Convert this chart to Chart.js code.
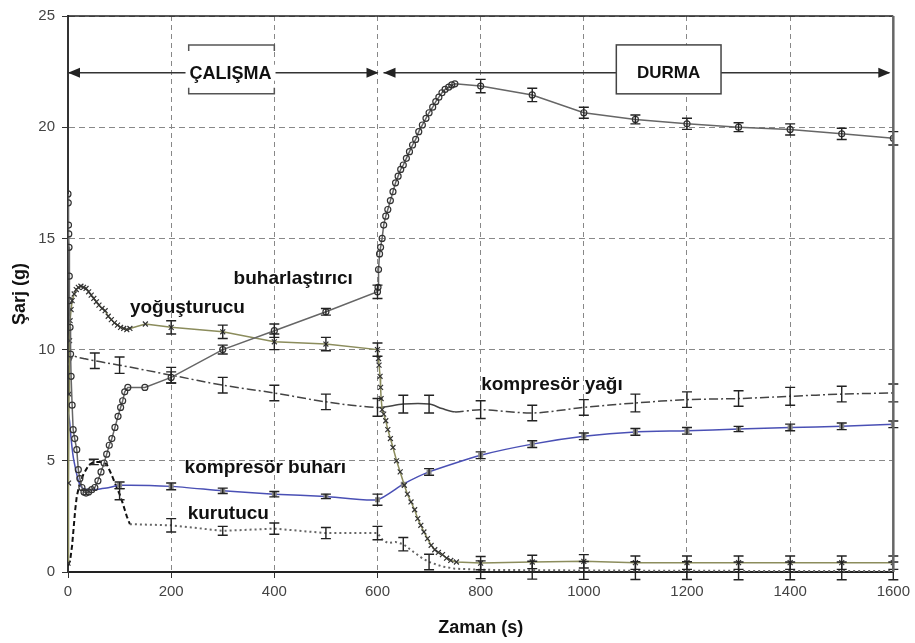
<!DOCTYPE html>
<html>
<head>
<meta charset="utf-8">
<script src="https://cdn.jsdelivr.net/npm/chart.js@4.4.1/dist/chart.umd.min.js"></script>
<style>
  body { margin: 0; background: #fff; }
  #chargeChart { display: block; }
</style>
</head>
<body>
<canvas id="chargeChart" width="915" height="643"></canvas>
<script>
// refrigerant charge (g) per component over time (s)
const evapTime = [0, 0.5, 1, 1.5, 2, 2.5, 3, 4, 5, 6,
  8, 10, 13, 17, 20, 23, 27, 31, 35, 40,
  46, 52, 58, 64, 70, 75, 80, 85, 91, 97,
  102, 106, 110, 116, 149, 200, 300, 400, 500, 600,
  601, 602, 604, 606, 609, 612, 616, 620, 625, 630,
  635, 640, 645, 650, 656, 662, 668, 674, 680, 687,
  694, 700, 707, 713, 719, 725, 731, 738, 744, 750,
  800, 900, 1000, 1100, 1200, 1300, 1400, 1500, 1600];
const evapCharge = [17.0, 16.6, 15.6, 15.2, 14.6, 13.3, 12.2, 11.0, 9.8, 8.8,
  7.5, 6.4, 6.0, 5.5, 4.6, 4.2, 3.8, 3.6, 3.55, 3.6,
  3.7, 3.8, 4.1, 4.5, 4.9, 5.3, 5.7, 6.0, 6.5, 7.0,
  7.4, 7.7, 8.1, 8.3, 8.3, 8.75, 10.0, 10.85, 11.7, 12.6,
  12.8, 13.6, 14.3, 14.6, 15.0, 15.6, 16.0, 16.3, 16.7, 17.1,
  17.5, 17.8, 18.1, 18.3, 18.6, 18.9, 19.2, 19.45, 19.8, 20.1,
  20.4, 20.65, 20.9, 21.15, 21.35, 21.55, 21.7, 21.8, 21.9, 21.95,
  21.85, 21.45, 20.65, 20.35, 20.15, 20.0, 19.9, 19.7, 19.5];
const evapBarTime = [200, 300, 400, 500, 600, 800, 900, 1000, 1100, 1200, 1300, 1400, 1500, 1600];
const evapBarErr = [0.25, 0.2, 0.3, 0.15, 0.3, 0.3, 0.3, 0.25, 0.2, 0.25, 0.2, 0.25, 0.25, 0.3];

const condTime = [0, 1, 2, 3, 4, 6, 8, 12, 16, 20,
  25, 30, 35, 40, 45, 50, 55, 60, 66, 72,
  78, 84, 90, 96, 102, 108, 114, 120, 150, 200,
  300, 400, 500, 600, 602, 603, 605, 606, 607, 609,
  612, 616, 620, 625, 630, 637, 644, 652, 658, 665,
  672, 678, 684, 690, 697, 704, 711, 718, 726, 734,
  742, 753, 800, 900, 1000, 1100, 1200, 1300, 1400, 1500,
  1600];
const condCharge = [0.4, 4.0, 8.0, 10.4, 11.3, 11.8, 12.2, 12.5, 12.7, 12.8,
  12.85, 12.8, 12.75, 12.6, 12.45, 12.3, 12.15, 12.0, 11.85, 11.75,
  11.5, 11.35, 11.2, 11.1, 11.0, 10.95, 10.9, 10.95, 11.15, 11.0,
  10.8, 10.35, 10.25, 10.0, 9.6, 9.3, 8.8, 8.3, 7.8, 7.3,
  7.1, 6.8, 6.4, 6.0, 5.6, 5.0, 4.5, 3.9, 3.5, 3.15,
  2.8, 2.4, 2.1, 1.8, 1.5, 1.2, 1.0, 0.88, 0.78, 0.62,
  0.52, 0.45, 0.4, 0.45, 0.48, 0.42, 0.42, 0.42, 0.42, 0.42,
  0.42];
const condBarTime = [200, 300, 400, 500, 600, 800, 900, 1000, 1100, 1200, 1300, 1400, 1500, 1600];
const condBarErr = [0.3, 0.3, 0.35, 0.3, 0.3, 0.3, 0.3, 0.3, 0.3, 0.3, 0.3, 0.3, 0.3, 0.3];

const oilTime = [0, 5, 10, 20, 30, 40, 52, 75, 100, 200,
  300, 400, 500, 600, 650, 700, 725, 750, 800, 900,
  1000, 1100, 1200, 1300, 1400, 1500, 1600];
const oilCharge = [9.3, 9.5, 9.7, 9.65, 9.6, 9.55, 9.5, 9.4, 9.3, 8.85,
  8.4, 8.05, 7.65, 7.4, 7.55, 7.55, 7.35, 7.2, 7.3, 7.15,
  7.4, 7.6, 7.75, 7.8, 7.9, 8.0, 8.05];
const oilBarTime = [52, 100, 200, 300, 400, 500, 600, 650, 700, 800, 900, 1000, 1100, 1200, 1300, 1400, 1500, 1600];
const oilBarErr = [0.35, 0.37, 0.35, 0.35, 0.35, 0.35, 0.4, 0.4, 0.4, 0.4, 0.35, 0.35, 0.4, 0.35, 0.35, 0.4, 0.35, 0.4];

const vapTime = [0, 3, 6, 10, 15, 20, 25, 30, 40, 50,
  66, 80, 100, 200, 300, 400, 500, 600, 650, 700,
  800, 900, 1000, 1100, 1200, 1300, 1400, 1500, 1600];
const vapCharge = [7.2, 6.8, 6.0, 5.2, 4.6, 4.1, 3.85, 3.75, 3.7, 3.7,
  3.75, 3.8, 3.9, 3.85, 3.65, 3.5, 3.4, 3.25, 3.95, 4.5,
  5.25, 5.75, 6.1, 6.3, 6.35, 6.43, 6.5, 6.55, 6.64];
const vapBarTime = [100, 200, 300, 400, 500, 600, 700, 800, 900, 1000, 1100, 1200, 1300, 1400, 1500, 1600];
const vapBarErr = [0.15, 0.15, 0.12, 0.12, 0.1, 0.25, 0.15, 0.15, 0.15, 0.15, 0.15, 0.15, 0.12, 0.15, 0.15, 0.15];

const dryTime = [0, 4, 8, 11, 14, 17, 22, 30, 40, 50,
  62, 75, 84, 91, 100, 106, 110, 114, 120, 200,
  300, 400, 500, 600, 610, 620, 635, 650, 670, 685,
  700, 725, 750, 800, 900, 1000, 1100, 1200, 1300, 1400,
  1500, 1600];
const dryCharge = [0.3, 0.5, 1.2, 2.0, 2.8, 3.4, 3.9, 4.4, 4.8, 4.95,
  4.95, 4.85, 4.4, 4.0, 3.5, 3.1, 2.8, 2.5, 2.15, 2.1,
  1.85, 1.95, 1.75, 1.75, 1.45, 1.3, 1.35, 1.25, 0.9, 0.65,
  0.45, 0.25, 0.15, 0.1, 0.08, 0.07, 0.06, 0.06, 0.05, 0.05,
  0.05, 0.05];
const dryBarTime = [50, 100, 200, 300, 400, 500, 600, 650, 700, 800, 900, 1000, 1100, 1200, 1300, 1400, 1500, 1600];
const dryBarErr = [0.12, 0.25, 0.3, 0.2, 0.25, 0.25, 0.3, 0.3, 0.35, 0.4, 0.4, 0.4, 0.4, 0.4, 0.4, 0.4, 0.4, 0.4];

const xTicks = [0, 200, 400, 600, 800, 1000, 1200, 1400, 1600];
const yTicks = [0, 5, 10, 15, 20, 25];

const FONT = '"Liberation Sans", Arial, Helvetica, sans-serif';

function pts(t, g) {
  return t.map((v, i) => ({ x: v, y: g[i] }));
}

// I-shaped error bars at the listed times
const errorBars = {
  id: 'errorBars',
  afterDatasetsDraw(chart) {
    const { ctx, scales: { x, y } } = chart;
    ctx.save();
    ctx.strokeStyle = '#222';
    ctx.lineWidth = 1.4;
    chart.data.datasets.forEach(ds => {
      if (!ds.barTime) return;
      ds.barTime.forEach((t, i) => {
        const p = ds.data.find(d => d.x === t);
        if (!p) return;
        const px = x.getPixelForValue(t);
        const lo = y.getPixelForValue(p.y - ds.barErr[i]);
        const hi = y.getPixelForValue(p.y + ds.barErr[i]);
        ctx.beginPath();
        ctx.moveTo(px, lo); ctx.lineTo(px, hi);
        ctx.moveTo(px - 5, lo); ctx.lineTo(px + 5, lo);
        ctx.moveTo(px - 5, hi); ctx.lineTo(px + 5, hi);
        ctx.stroke();
      });
    });
    ctx.restore();
  }
};

// top and right frame lines
const frame = {
  id: 'frame',
  afterDraw(chart) {
    const { ctx, chartArea: a } = chart;
    ctx.save();
    ctx.strokeStyle = '#222';
    ctx.lineWidth = 1.5;
    ctx.beginPath();
    ctx.moveTo(a.left, a.top); ctx.lineTo(a.right, a.top);
    ctx.stroke();
    ctx.strokeStyle = '#666';
    ctx.lineWidth = 2.5;
    ctx.beginPath();
    ctx.moveTo(a.right, a.top); ctx.lineTo(a.right, a.bottom);
    ctx.stroke();
    ctx.restore();
  }
};

// ÇALIŞMA / DURMA phase arrows and the curve names
const phaseMarks = {
  id: 'phaseMarks',
  afterDraw(chart) {
    const { ctx, scales: { x, y } } = chart;
    const ay = y.getPixelForValue(22.45);
    const x0 = x.getPixelForValue(0);
    const x6 = x.getPixelForValue(600);
    const x16 = x.getPixelForValue(1600);
    const boxTop = y.getPixelForValue(23.7);
    const boxBot = y.getPixelForValue(21.5);

    const head = (tip, dir) => {
      ctx.beginPath();
      ctx.moveTo(tip, ay);
      ctx.lineTo(tip - dir * 12, ay - 5);
      ctx.lineTo(tip - dir * 12, ay + 5);
      ctx.closePath();
      ctx.fill();
    };

    ctx.save();
    ctx.strokeStyle = '#333';
    ctx.fillStyle = '#222';
    ctx.lineWidth = 1.5;
    ctx.beginPath();
    ctx.moveTo(x0, ay); ctx.lineTo(x6, ay);
    ctx.moveTo(x6 + 6, ay); ctx.lineTo(x16 - 4, ay);
    ctx.stroke();
    head(x0, -1);
    head(x6 + 1, 1);
    head(x6 + 6, -1);
    head(x16 - 3, 1);

    // ÇALIŞMA with bracket marks
    const bl = x.getPixelForValue(234), br = x.getPixelForValue(400);
    ctx.font = 'bold 18px ' + FONT;
    ctx.textAlign = 'center';
    ctx.textBaseline = 'middle';
    const cx = (bl + br) / 2 - 1;
    const w = ctx.measureText('ÇALIŞMA').width;
    ctx.fillStyle = '#fff';
    ctx.fillRect(cx - w / 2 - 4, ay - 8, w + 8, 16);
    ctx.fillStyle = '#111';
    ctx.fillText('ÇALIŞMA', cx, ay + 1);
    ctx.strokeStyle = '#555';
    ctx.lineWidth = 1.5;
    ctx.beginPath();
    ctx.moveTo(bl, boxTop + 6); ctx.lineTo(bl, boxTop); ctx.lineTo(br, boxTop); ctx.lineTo(br, boxTop + 6);
    ctx.moveTo(bl, boxBot - 6); ctx.lineTo(bl, boxBot); ctx.lineTo(br, boxBot); ctx.lineTo(br, boxBot - 6);
    ctx.stroke();

    // DURMA box
    const dl = x.getPixelForValue(1063), dr = x.getPixelForValue(1266);
    ctx.fillStyle = '#fff';
    ctx.fillRect(dl, boxTop, dr - dl, boxBot - boxTop);
    ctx.strokeStyle = '#444';
    ctx.strokeRect(dl, boxTop, dr - dl, boxBot - boxTop);
    ctx.fillStyle = '#111';
    ctx.font = 'bold 17px ' + FONT;
    ctx.fillText('DURMA', (dl + dr) / 2, ay + 1);

    // curve names
    ctx.font = 'bold 19px ' + FONT;
    ctx.textAlign = 'left';
    [['buharlaştırıcı', 321, 13.2],
     ['yoğuşturucu', 120, 11.9],
     ['kompresör yağı', 801, 8.4],
     ['kompresör buharı', 226, 4.7],
     ['kurutucu', 232, 2.6]].forEach(([txt, t, v]) => {
      ctx.fillText(txt, x.getPixelForValue(t), y.getPixelForValue(v));
    });
    ctx.restore();
  }
};

const ctx = document.getElementById('chargeChart');

const ChargeChart = new Chart(ctx, {
  type: 'line',
  data: {
    datasets: [{
      label: 'buharlaştırıcı',
      data: pts(evapTime, evapCharge),
      barTime: evapBarTime,
      barErr: evapBarErr,
      borderColor: '#666',
      borderWidth: 1.5,
      pointStyle: 'circle',
      pointRadius: 3,
      pointBorderColor: '#333',
      pointBackgroundColor: 'rgba(255,255,255,0)',
      pointBorderWidth: 1.2,
      tension: 0
    },
    {
      label: 'yoğuşturucu',
      data: pts(condTime, condCharge),
      barTime: condBarTime,
      barErr: condBarErr,
      borderColor: '#8b8c5c',
      borderWidth: 1.5,
      pointStyle: 'crossRot',
      pointRadius: 3.5,
      pointBorderColor: '#333',
      pointBorderWidth: 1.2,
      tension: 0
    },
    {
      label: 'kompresör yağı',
      data: pts(oilTime, oilCharge),
      barTime: oilBarTime,
      barErr: oilBarErr,
      borderColor: '#444',
      borderWidth: 1.5,
      borderDash: [9, 3, 2, 3],
      pointRadius: 0,
      tension: 0.3,
      segment: {
        borderDash: c => (c.p0.parsed.x >= 600 && c.p1.parsed.x <= 750) ? [] : [9, 3, 2, 3]
      }
    },
    {
      label: 'kompresör buharı',
      data: pts(vapTime, vapCharge),
      barTime: vapBarTime,
      barErr: vapBarErr,
      borderColor: '#4a50b5',
      borderWidth: 1.5,
      pointStyle: 'rect',
      pointRadius: c => (c.raw && c.raw.x >= 100 && c.raw.x % 50 === 0) ? 2.5 : 0,
      pointBackgroundColor: '#888',
      pointBorderColor: '#888',
      tension: 0.2
    },
    {
      label: 'kurutucu',
      data: pts(dryTime, dryCharge),
      barTime: dryBarTime,
      barErr: dryBarErr,
      borderColor: '#666',
      borderWidth: 2,
      borderDash: [2, 3],
      pointRadius: 0,
      tension: 0,
      segment: {
        borderDash: c => c.p1.parsed.x <= 120 ? [5, 3] : [2, 3],
        borderColor: c => c.p1.parsed.x <= 120 ? '#111' : '#666'
      }
    }]
  },
  plugins: [frame, errorBars, phaseMarks],
  options: {
    responsive: false,
    animation: false,
    layout: {
      padding: { top: 15, right: 20, left: 0, bottom: 0 }
    },
    plugins: {
      legend: { display: false },
      tooltip: { enabled: false }
    },
    scales: {
      x: {
        type: 'linear',
        min: 0,
        max: 1600,
        afterFit: s => { s.height = 71; },
        afterBuildTicks: s => { s.ticks = xTicks.map(v => ({ value: v })); },
        ticks: {
          color: '#444',
          padding: 5,
          maxRotation: 0,
          callback: v => String(v),
          font: { family: FONT, size: 15 }
        },
        grid: {
          color: '#888',
          lineWidth: 1,
          tickLength: 6,
          tickColor: '#333'
        },
        border: { color: '#222', width: 2, dash: [5, 4] },
        title: {
          display: true,
          text: 'Zaman (s)',
          color: '#111',
          padding: { top: 0, bottom: 4 },
          font: { family: FONT, size: 18, weight: 'bold' }
        }
      },
      y: {
        min: 0,
        max: 25,
        afterFit: s => { s.width = 68; },
        afterBuildTicks: s => { s.ticks = yTicks.map(v => ({ value: v })); },
        ticks: {
          color: '#444',
          padding: 7,
          callback: v => String(v),
          font: { family: FONT, size: 15 }
        },
        grid: {
          color: '#888',
          lineWidth: 1,
          tickLength: 6,
          tickColor: '#333'
        },
        border: { color: '#333', width: 2, dash: [6, 4] },
        title: {
          display: true,
          text: 'Şarj (g)',
          color: '#111',
          padding: { top: 9, bottom: 0 },
          font: { family: FONT, size: 18, weight: 'bold' }
        }
      }
    }
  }
});
</script>
</body>
</html>
